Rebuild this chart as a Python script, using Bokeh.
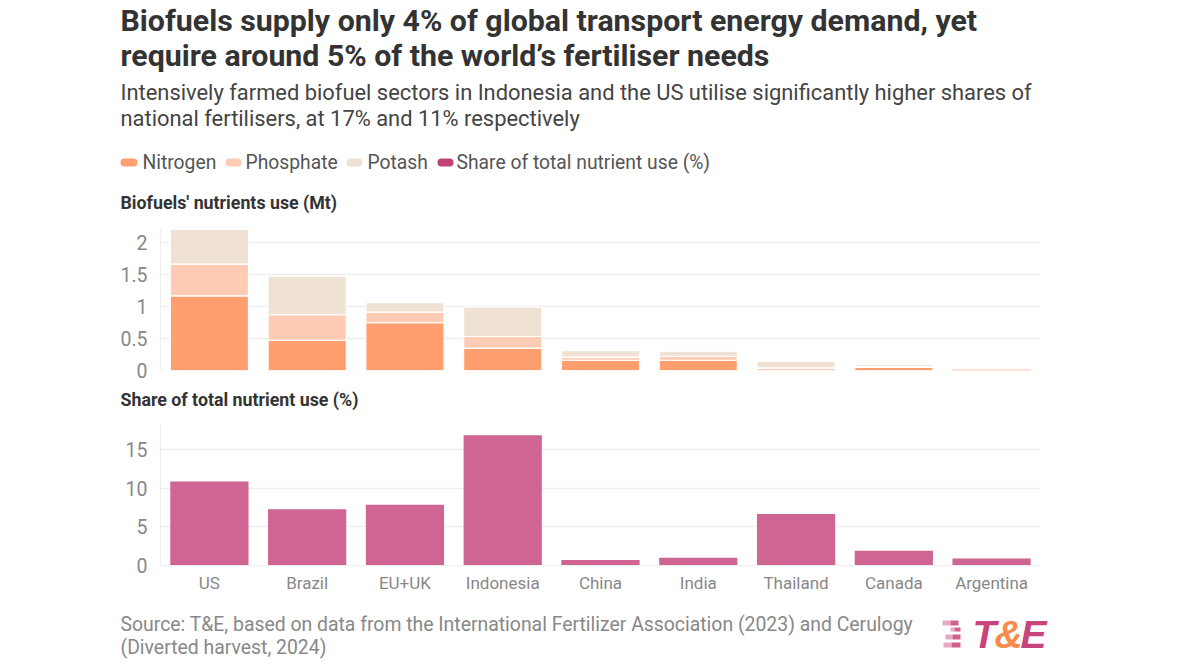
from bokeh.plotting import figure
from bokeh.layouts import column
from bokeh.models import Label, FixedTicker, BoxAnnotation, ColumnDataSource
from bokeh.embed import file_html
from bokeh.resources import INLINE

categories = ["US", "Brazil", "EU+UK", "Indonesia", "China", "India", "Thailand", "Canada", "Argentina"]
nitrogen = [1.165, 0.47, 0.745, 0.35, 0.16, 0.16, 0.03, 0.05, 0.012]
phosphate = [0.495, 0.40, 0.165, 0.18, 0.05, 0.06, 0.01, 0.01, 0.006]
potash = [0.54, 0.60, 0.15, 0.46, 0.10, 0.08, 0.105, 0.03, 0.006]
share = [10.9, 7.3, 7.9, 16.9, 0.7, 1.0, 6.7, 1.9, 0.9]
top_ticks = [0, 0.5, 1, 1.5, 2]
top_tick_labels = ["0", "0.5", "1", "1.5", "2"]
bottom_ticks = [0, 5, 10, 15]
bottom_tick_labels = ["0", "5", "10", "15"]
legend_names = ["Nitrogen", "Phosphate", "Potash", "Share of total nutrient use (%)"]

C_N, C_P, C_K, C_S = "#FF9F70", "#FFCBB5", "#EFE2D5", "#CE6592"
FONT = "Roboto"
W = 1192


def style(p, ticks, labels):
    p.outline_line_color = None
    p.xgrid.visible = False
    p.ygrid.grid_line_color = "#EEEEEE"
    p.ygrid.grid_line_width = 1.5
    p.yaxis.ticker = FixedTicker(ticks=ticks)
    p.yaxis.major_label_overrides = {t: l for t, l in zip(ticks, labels)}
    p.yaxis.major_label_text_font = FONT
    p.yaxis.major_label_text_font_size = "19.5px"
    p.yaxis.major_label_text_color = "#888888"
    p.yaxis.major_tick_line_color = None
    p.yaxis.minor_tick_line_color = None
    p.yaxis.axis_line_color = "#EEEEEE"
    p.yaxis.major_label_standoff = 7
    p.xaxis.major_tick_line_color = None
    p.xaxis.axis_line_color = "#EEEEEE"
    p.x_range.range_padding = 0


def blank(height):
    f = figure(width=W, height=height, x_range=(0, W), y_range=(0, height),
               output_backend="svg", toolbar_location=None, frame_align=False,
               x_axis_location=None, y_axis_location=None,
               min_border=0, min_border_left=0, min_border_right=0, min_border_top=0, min_border_bottom=0)
    f.outline_line_color = None
    f.xgrid.visible = False
    f.ygrid.visible = False
    return f


def text(f, top, x, y, s, size, color, style_="normal", font=FONT):
    """y is the page row of the text's middle; top is the page row where figure f starts."""
    f.add_layout(Label(x=x, y=f.height - (y - top), x_units="screen", y_units="screen",
                       text=s, text_font=font, text_font_size=size, text_color=color,
                       text_font_style=style_, text_baseline="middle", text_align="left"))


def box(f, top, l, r, y0, y1, color, alpha=1.0, radius=0):
    f.add_layout(BoxAnnotation(left=l, right=r, top=f.height - (y0 - top), bottom=f.height - (y1 - top),
                               left_units="screen", right_units="screen",
                               top_units="screen", bottom_units="screen",
                               fill_color=color, fill_alpha=alpha, line_color=None,
                               border_radius=radius))


# ---------- header ----------
head = blank(220)
text(head, 0, 120, 20, "Biofuels supply only 4% of global transport energy demand, yet", "30.3px", "#333333", "bold")
text(head, 0, 120, 55, "require around 5% of the world’s fertiliser needs", "30.3px", "#333333", "bold")
text(head, 0, 120, 92, "Intensively farmed biofuel sectors in Indonesia and the US utilise significantly higher shares of", "21.9px", "#444444")
text(head, 0, 120, 118, "national fertilisers, at 17% and 11% respectively", "21.9px", "#444444")
text(head, 0, 120, 202, "Biofuels' nutrients use (Mt)", "17.8px", "#333333", "bold")

for name, color, sx0, sx1, tx in zip(legend_names, (C_N, C_P, C_K, "#C0437A"),
                                     (120, 225, 346, 437), (137, 241, 362, 453), (142, 245, 367, 456)):
    box(head, 0, sx0, sx1, 158, 166, color, radius=4)
    text(head, 0, tx, 161.5, name, "19.3px", "#555555")

# ---------- top panel ----------
p1 = figure(width=W, height=162, x_range=categories, y_range=(0, 2.215),
            output_backend="svg", toolbar_location=None, frame_align=False,
            min_border_left=160, min_border_right=152, min_border_top=8, min_border_bottom=12)
p1.xaxis.visible = False
style(p1, top_ticks, top_tick_labels)
src = ColumnDataSource(dict(cat=categories, Nitrogen=nitrogen, Phosphate=phosphate, Potash=potash,
                            stroke=[1, 1, 1, 1, 1, 1, 1, 1, 0]))
p1.vbar_stack(["Nitrogen", "Phosphate", "Potash"], x="cat", width=0.8, source=src,
              fill_color=[C_N, C_P, C_K], line_color="white", line_width=1.2, line_alpha="stroke")

# ---------- panel title ----------
mid = blank(33)
text(mid, 382, 120, 399, "Share of total nutrient use (%)", "17.8px", "#333333", "bold")

# ---------- bottom panel ----------
p2 = figure(width=W, height=190, x_range=categories, y_range=(0, 18.18),
            output_backend="svg", toolbar_location=None, frame_align=False,
            min_border_left=160, min_border_right=152, min_border_top=10, min_border_bottom=40)
style(p2, bottom_ticks, bottom_tick_labels)
p2.vbar(x=categories, top=share, width=0.8, fill_color=C_S, line_color=None)
p2.xaxis.major_label_text_font = FONT
p2.xaxis.major_label_text_font_size = "17px"
p2.xaxis.major_label_text_color = "#888888"
p2.xaxis.major_label_standoff = 1

# ---------- footer ----------
foot = blank(55)
text(foot, 605, 120, 624, "Source: T&E, based on data from the International Fertilizer Association (2023) and Cerulogy", "19.4px", "#888888")
text(foot, 605, 120, 647, "(Diverted harvest, 2024)", "19.4px", "#888888")
text(foot, 605, 972, 634, "T", "39px", "#C8457C", "bold italic", "Liberation Sans")
text(foot, 605, 994, 634, "&", "39px", "#F58B4C", "bold italic", "Liberation Sans")
text(foot, 605, 1020, 634, "E", "39px", "#C8457C", "bold italic", "Liberation Sans")
for y0, y1, l, m, r in [(620, 625, 942, 950, 958), (627, 631, 950, 954, 960),
                        (634, 639, 945, 952, 960), (642, 647, 943, 951, 960)]:
    box(foot, 605, l, m, y0, y1, "#E9A9C2")
    box(foot, 605, m, r, y0, y1, "#D2608E")

page = column(head, p1, mid, p2, foot, spacing=0)
open("out.html", "w").write(file_html(page, INLINE))
